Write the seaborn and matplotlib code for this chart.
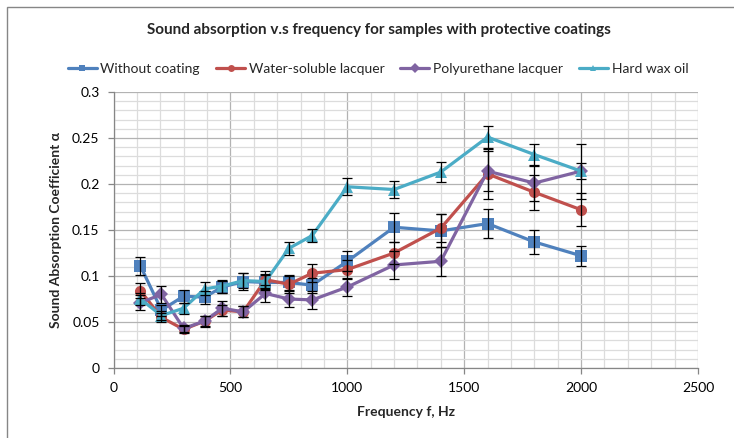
import matplotlib
matplotlib.use("Agg")
import matplotlib.pyplot as plt
from matplotlib.lines import Line2D
from matplotlib.patches import Rectangle
from matplotlib.ticker import MultipleLocator, FuncFormatter
import seaborn as sns
import pandas as pd

# ---- data ----
freq = [115, 205, 300, 390, 465, 555, 650, 750, 850, 1000, 1200, 1400, 1600, 1800, 2000]

without_coating = [0.111, 0.063, 0.078, 0.077, 0.088, 0.094, 0.093, 0.093, 0.090, 0.116, 0.153, 0.149, 0.157, 0.137, 0.122]
without_err     = [0.010, 0.006, 0.007, 0.007, 0.007, 0.009, 0.008, 0.008, 0.008, 0.011, 0.016, 0.018, 0.016, 0.013, 0.011]

water_lacquer = [0.084, 0.055, 0.042, 0.051, 0.063, 0.061, 0.096, 0.091, 0.103, 0.107, 0.125, 0.152, 0.211, 0.191, 0.172]
water_err     = [0.008, 0.005, 0.004, 0.005, 0.006, 0.006, 0.009, 0.009, 0.010, 0.010, 0.012, 0.015, 0.027, 0.019, 0.018]

poly_lacquer = [0.071, 0.080, 0.043, 0.051, 0.065, 0.061, 0.081, 0.075, 0.074, 0.088, 0.112, 0.116, 0.214, 0.201, 0.214]
poly_err     = [0.008, 0.009, 0.004, 0.006, 0.008, 0.006, 0.009, 0.009, 0.010, 0.010, 0.015, 0.016, 0.022, 0.019, 0.030]

hard_wax = [0.075, 0.057, 0.065, 0.086, 0.089, 0.095, 0.094, 0.130, 0.144, 0.197, 0.194, 0.213, 0.251, 0.232, 0.214]
wax_err  = [0.007, 0.005, 0.006, 0.007, 0.007, 0.008, 0.008, 0.007, 0.007, 0.009, 0.009, 0.011, 0.012, 0.011, 0.009]

series_names = ["Without coating", "Water-soluble lacquer", "Polyurethane lacquer", "Hard wax oil"]
series_vals = [without_coating, water_lacquer, poly_lacquer, hard_wax]
series_errs = [without_err, water_err, poly_err, wax_err]

colors = ["#4F81BD", "#C0504D", "#8064A2", "#4BACC6"]
marker_list = ["s", "o", "D", "^"]
marker_sizes = [8, 8, 7.5, 8.5]

title = "Sound absorption v.s frequency for samples with protective coatings"
xlabel = "Frequency f, Hz"
ylabel = "Sound Absorption Coefficient α"

rows = []
for name, vals, errs in zip(series_names, series_vals, series_errs):
    for f, v, e in zip(freq, vals, errs):
        rows.append({"freq": f, "alpha": v, "err": e, "series": name})
df = pd.DataFrame(rows)

# ---- style ----
sns.set_theme(style="white")
plt.rcParams["font.family"] = ["Lato", "DejaVu Sans"]

fig = plt.figure(figsize=(7.34, 4.38), dpi=100)
ax = fig.add_axes([113.5 / 734, 70 / 438, (698 - 113.5) / 734, (368 - 92) / 438])

for name, c, m, ms in zip(series_names, colors, marker_list, marker_sizes):
    sub = df[df["series"] == name]
    sns.lineplot(data=sub, x="freq", y="alpha", ax=ax, color=c, marker=m,
                 markersize=ms, markeredgewidth=0, linewidth=2.3,
                 legend=False, zorder=3)
    ax.errorbar(sub["freq"], sub["alpha"], yerr=sub["err"], fmt="none",
                ecolor="black", elinewidth=0.9, capsize=3.3, capthick=0.9, zorder=4)

ax.set_xlim(0, 2500)
ax.set_ylim(0, 0.3)
ax.xaxis.set_major_locator(MultipleLocator(500))
ax.xaxis.set_minor_locator(MultipleLocator(100))
ax.yaxis.set_major_locator(MultipleLocator(0.05))
ax.yaxis.set_minor_locator(MultipleLocator(0.01))
ax.yaxis.set_major_formatter(FuncFormatter(lambda v, p: f"{v:g}"))
ax.xaxis.set_major_formatter(FuncFormatter(lambda v, p: f"{v:g}"))

ax.grid(which="major", color="#b3b3b3", linewidth=0.9, zorder=0)
ax.grid(which="minor", color="#dcdcdc", linewidth=0.9, zorder=0)
ax.set_axisbelow(True)

for s in ["top", "right"]:
    ax.spines[s].set_visible(False)
for s in ["left", "bottom"]:
    ax.spines[s].set_color("#868686")
    ax.spines[s].set_linewidth(0.9)

ax.tick_params(which="major", length=4, width=0.9, color="#868686",
               labelsize=10, labelcolor="black", direction="out", pad=6,
               bottom=True, left=True)
ax.tick_params(which="minor", length=0)

ax.set_xlabel(xlabel, fontsize=10, fontweight="bold", labelpad=9)
ax.set_ylabel(ylabel, fontsize=10, fontweight="bold", labelpad=7)

fig.text(379 / 734, 1 - 30 / 438, title, ha="center", va="center",
         fontsize=11, fontweight="bold")

handles = [Line2D([0], [0], color=c, marker=m, markersize=5, markeredgewidth=0,
                  linewidth=2.3) for c, m in zip(colors, marker_list)]
fig.legend(handles, series_names, loc="center", bbox_to_anchor=(378 / 734, 1 - 69 / 438),
           ncol=4, frameon=False, fontsize=10, handlelength=2.1, handletextpad=0.25,
           columnspacing=1.15)

# chart frame (left and top edges visible, as in the reference)
fig.patches.append(Rectangle((7 / 734, -0.1), 1.2, 1 - 7 / 438 + 0.1,
                             transform=fig.transFigure, fill=False,
                             edgecolor="#868686", linewidth=1.0))

fig.savefig("out.png", dpi=100)
